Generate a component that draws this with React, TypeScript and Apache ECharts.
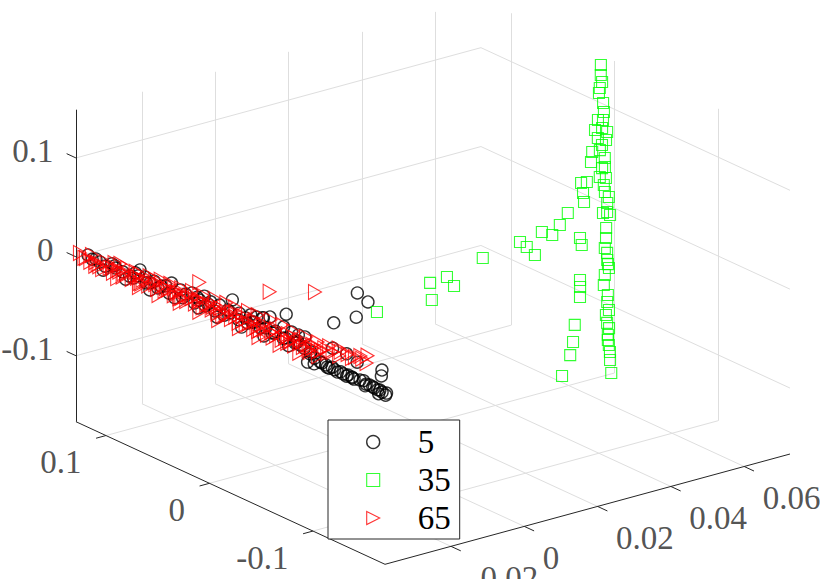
import { useEffect, useRef } from "react";
import * as echarts from "echarts";

const W = 830;
const H = 579;
const FONT = "Liberation Serif";

// 3D axis limits (tight)
const XLIM = [-0.038, 0.0725];
const YLIM = [-0.1696, 0.129];
const ZLIM = [-0.1667, 0.1488];

const X_TICKS = [-0.02, 0, 0.02, 0.04, 0.06];
const Y_TICKS = [-0.1, 0, 0.1];
const Z_TICKS = [-0.1, 0, 0.1];
const X_TICK_LABELS = ["-0.02", "0", "0.02", "0.04", "0.06"];
const Y_TICK_LABELS = ["-0.1", "0", "0.1"];
const Z_TICK_LABELS = ["-0.1", "0", "0.1"];

const SERIES_NAMES = ["5", "35", "65"];

// class "5" (black circles)
const Y5 = [0.1209, 0.1161, 0.0987, 0.0939, 0.0755, 0.0659, 0.0562, 0.0465, 0.0398, 0.0320,
  0.0204, 0.0147, 0.0031, -0.0066, -0.0182, -0.0143, -0.0259, -0.0356, -0.0424, -0.0482,
  -0.0549, -0.0713, -0.0675, -0.0762, -0.0820, -0.0887, -0.0404, -0.0501, -0.0597, -0.0694,
  -0.0791, -0.0887, -0.0936, -0.0984, -0.1032, -0.1090, -0.1158, -0.1225, -0.1293, -0.1341,
  -0.1419, -0.1486, -0.1583, -0.1670, -0.1622, -0.1631, -0.1399, -0.1283, -0.1158, -0.1390,
  -0.1496, -0.1390, -0.1158, 0.0127, -0.0308, -0.0839, -0.1129, -0.1535, 0.0804, 0.0610,
  0.1094, 0.1036, 0.0881, 0.0765, 0.0649, 0.0533, 0.0417, 0.0302, 0.0176, 0.0079,
  -0.0017, -0.0114, -0.0240, -0.0336, -0.0452, -0.0568, -0.0684, -0.0800, -0.0916, -0.0973,
  -0.1051, -0.1109, -0.1167, -0.1205, -0.1254, -0.1341, -0.1369, -0.1447, -0.1515, -0.1553,
  -0.1611, -0.1640, -0.1592, -0.1679, -0.1466, -0.1302,
  0.1132, 0.1055, 0.0958, 0.0842, 0.0727, 0.0611, 0.0495, 0.0379, 0.0263, 0.0147,
  0.0050, -0.0046, -0.0162, -0.0278, -0.0375, -0.0491, -0.0606, -0.0722, -0.0819, -0.0935,
  0.0707, 0.0079, -0.0471];
const Z5 = [0.0048, 0.0030, 0.0064, 0.0047, 0.0085, 0.0091, 0.0097, 0.0093, 0.0156, 0.0123,
  0.0149, 0.0136, 0.0141, 0.0158, 0.0264, 0.0145, 0.0170, 0.0197, 0.0209, 0.0227,
  0.0270, 0.0379, 0.0229, 0.0221, 0.0218, 0.0231, 0.0149, 0.0135, 0.0131, 0.0127,
  0.0123, 0.0120, 0.0102, 0.0065, 0.0048, 0.0046, 0.0058, 0.0040, 0.0032, 0.0036,
  0.0053, 0.0045, 0.0031, 0.0022, 0.0191, 0.0256, 0.0225, 0.0250, 0.0250, 0.0918,
  0.0879, 0.0676, 0.0503, 0.0115, 0.0143, 0.0127, 0.0034, 0.0038, 0.0031, 0.0054,
  0.0033, 0.0020, 0.0034, 0.0030, 0.0035, 0.0041, 0.0046, 0.0051, 0.0062, 0.0078,
  0.0074, 0.0080, 0.0090, 0.0107, 0.0112, 0.0118, 0.0123, 0.0128, -0.0008, 0.0000,
  0.0047, 0.0035, 0.0033, 0.0031, 0.0034, 0.0046, 0.0040, 0.0057, 0.0049, 0.0037,
  0.0045, 0.0039, -0.0005, 0.0047, 0.0016, 0.0047,
  0.0045, -0.0029, 0.0058, -0.0018, 0.0069, -0.0017, 0.0080, 0.0014, 0.0111, 0.0025,
  0.0112, 0.0027, 0.0124, 0.0038, 0.0135, 0.0050, 0.0156, 0.0061, 0.0158, 0.0082,
  0.0139, 0.0179, 0.0223];
const X5 = [-0.0370, -0.0372, -0.0368, -0.0371, -0.0369, -0.0370, -0.0372, -0.0368, -0.0371, -0.0369,
  -0.0370, -0.0372, -0.0368, -0.0371, -0.0369, -0.0370, -0.0372, -0.0368, -0.0371, -0.0369,
  -0.0370, -0.0372, -0.0368, -0.0371, -0.0369, -0.0370, -0.0372, -0.0368, -0.0371, -0.0369,
  -0.0370, -0.0372, -0.0368, -0.0371, -0.0369, -0.0370, -0.0372, -0.0368, -0.0371, -0.0369,
  -0.0370, -0.0372, -0.0368, -0.0371, -0.0369, -0.0370, -0.0372, -0.0368, -0.0371, -0.0369,
  -0.0370, -0.0372, -0.0368, -0.0371, -0.0369, -0.0370, -0.0372, -0.0368, -0.0371, -0.0369,
  -0.0370, -0.0372, -0.0368, -0.0371, -0.0369, -0.0370, -0.0372, -0.0368, -0.0371, -0.0369,
  -0.0370, -0.0372, -0.0368, -0.0371, -0.0369, -0.0370, -0.0372, -0.0368, -0.0371, -0.0369,
  -0.0370, -0.0372, -0.0368, -0.0371, -0.0369, -0.0370, -0.0372, -0.0368, -0.0371, -0.0369,
  -0.0370, -0.0372, -0.0368, -0.0371, -0.0369, -0.0370,
  -0.0370, -0.0372, -0.0368, -0.0371, -0.0369, -0.0370, -0.0372, -0.0368, -0.0371, -0.0369,
  -0.0370, -0.0372, -0.0368, -0.0371, -0.0369, -0.0370, -0.0372, -0.0368, -0.0371, -0.0369,
  -0.0370, -0.0372, -0.0368];

// class "35" (green squares)
const X35 = [0.0688, 0.0688, 0.0691, 0.0685, 0.0683, 0.0694, 0.0696, 0.0680, 0.0694, 0.0672,
  0.0691, 0.0705, 0.0680, 0.0702, 0.0664, 0.0661, 0.0699, 0.0699, 0.0691, 0.0685,
  0.0702, 0.0699, 0.0705, 0.0705, 0.0694, 0.0713, 0.0702, 0.0702, 0.0699, 0.0705,
  0.0705, 0.0710, 0.0699, 0.0707, 0.0705, 0.0710, 0.0702, 0.0705, 0.0710, 0.0707,
  0.0710, 0.0713, 0.0716, 0.0696, 0.0650, 0.0634, 0.0639, 0.0642, 0.0598, 0.0576,
  0.0555, 0.0527, 0.0486, 0.0508, 0.0467, 0.0631, 0.0636, 0.0631, 0.0631, 0.0631,
  0.0617, 0.0612, 0.0604, 0.0582, 0.0366, 0.0268, 0.0287, 0.0222, 0.0227, 0.0077,
  0.0685, 0.0696, 0.0710, 0.0691, 0.0707, 0.0707, 0.0713];
const Y35 = [0.0000, 0.0001, -0.0001, 0.0000, 0.0001, 0.0000, -0.0001, 0.0000, 0.0001, 0.0000,
  -0.0001, 0.0000, 0.0001, 0.0000, -0.0001, 0.0000, 0.0001, 0.0000, -0.0001, 0.0000,
  0.0001, 0.0000, -0.0001, 0.0000, 0.0001, 0.0000, -0.0001, 0.0000, 0.0001, 0.0000,
  -0.0001, 0.0000, 0.0001, 0.0000, -0.0001, 0.0000, 0.0001, 0.0000, -0.0001, 0.0000,
  0.0001, 0.0000, -0.0001, 0.0000, 0.0001, 0.0000, -0.0001, 0.0000, 0.0001, 0.0000,
  -0.0001, 0.0000, 0.0001, 0.0000, -0.0001, 0.0000, 0.0001, 0.0000, -0.0001, 0.0000,
  0.0001, 0.0000, -0.0001, 0.0000, 0.0001, 0.0000, -0.0001, 0.0000, 0.0001, 0.0000,
  -0.0001, 0.0000, 0.0001, 0.0000, -0.0001, 0.0000, 0.0001];
const Z35 = [0.1485, 0.1384, 0.1310, 0.1255, 0.1207, 0.1095, 0.1002, 0.0937, 0.0923, 0.0844,
  0.0845, 0.0791, 0.0755, 0.0712, 0.0630, 0.0531, 0.0533, 0.0442, 0.0440, 0.0355,
  0.0328, 0.0190, 0.0073, -0.0018, -0.0018, -0.0057, -0.0177, -0.0279, -0.0377, -0.0432,
  -0.0503, -0.0590, -0.0650, -0.0860, -0.0928, -0.1015, -0.1057, -0.1140, -0.1197, -0.1315,
  -0.1369, -0.1523, -0.1657, -0.0748, 0.0340, 0.0346, 0.0240, 0.0146, 0.0079, -0.0020,
  -0.0100, -0.0041, -0.0152, -0.0254, -0.0081, -0.0207, -0.0283, -0.0631, -0.0702, -0.0803,
  -0.1072, -0.1239, -0.1363, -0.1553, -0.0142, -0.0235, -0.0345, -0.0248, -0.0426, -0.0396,
  0.0628, 0.0263, 0.0128, 0.0673, -0.0547, -0.1265, -0.1443];

// class "65" (red triangles)
const Y65 = [0.1287, 0.1248, 0.1132, 0.1093, 0.1035, 0.0977, 0.0919, 0.0861, 0.0823, 0.0765,
  0.0707, 0.0649, 0.0610, 0.0552, 0.0514, 0.0456, 0.0417, 0.0359, 0.0301, 0.0243,
  0.0204, 0.0147, 0.0089, 0.0031, -0.0008, -0.0066, -0.0124, -0.0182, -0.0221, -0.0279,
  -0.0337, -0.0395, -0.0433, -0.0491, -0.0549, -0.0607, -0.0665, -0.0723, -0.0781, -0.0839,
  -0.0897, -0.0955, -0.1013, -0.1081, -0.1225, -0.1341, -0.1419, -0.1486, 0.0127, -0.0539,
  -0.0984, 0.0900, 0.0707, 0.0320, -0.0114, -0.0453, -0.0742, -0.0936,
  0.1229, 0.1190, 0.1113, 0.1065, 0.1007, 0.0968, 0.0910, 0.0871, 0.0833, 0.0794,
  0.0736, 0.0698, 0.0678, 0.0620, 0.0582, 0.0543, 0.0504, 0.0466, 0.0427, 0.0388,
  0.0350, 0.0311, 0.0273, 0.0253, 0.0215, 0.0176, 0.0137, 0.0099, 0.0060, 0.0021,
  0.0002, -0.0037, -0.0075, -0.0095, -0.0133, -0.0172, -0.0211, -0.0249, -0.0288, -0.0307,
  -0.0346, -0.0384, -0.0423, -0.0442, -0.0481, -0.0520, -0.0558, -0.0578, -0.0616, -0.0655,
  -0.0694, -0.0713, -0.0752, -0.0790, -0.0829, -0.0867, -0.0887, -0.0925, -0.0964, -0.1003,
  -0.1041, -0.1099, -0.1157, -0.1225, -0.1292, -0.1370, -0.1437, -0.1495, -0.1128, -0.1206,
  0.1171, 0.1142, 0.0949, 0.0920, 0.0756, 0.0717, 0.0562, 0.0524, 0.0369, 0.0330,
  0.0176, 0.0137, -0.0017, -0.0056, -0.0210, -0.0249, -0.0404, -0.0442, -0.0597, -0.0635,
  -0.0790, -0.0829, -0.0983, -0.1022];
const Z65 = [0.0030, -0.0001, 0.0014, -0.0008, 0.0051, 0.0028, 0.0036, 0.0033, 0.0103, 0.0050,
  0.0098, 0.0055, 0.0124, 0.0072, 0.0131, 0.0078, 0.0137, 0.0084, 0.0152, 0.0100,
  0.0169, 0.0106, 0.0174, 0.0121, 0.0191, 0.0128, 0.0206, 0.0143, 0.0212, 0.0149,
  0.0228, 0.0165, 0.0234, 0.0171, 0.0239, 0.0176, 0.0245, 0.0182, 0.0240, 0.0177,
  0.0236, 0.0183, 0.0241, 0.0213, 0.0242, 0.0238, 0.0295, 0.0257, 0.0297, 0.0518,
  0.0733, 0.0106, 0.0007, 0.0042, 0.0080, 0.0092, 0.0110, 0.0102,
  0.0008, -0.0014, 0.0003, -0.0024, 0.0014, -0.0016, 0.0024, -0.0006, 0.0046, 0.0004,
  0.0046, 0.0005, 0.0055, 0.0026, 0.0076, 0.0026, 0.0076, 0.0046, 0.0077, 0.0035,
  0.0087, 0.0045, 0.0086, 0.0046, 0.0087, 0.0056, 0.0097, 0.0056, 0.0107, 0.0067,
  0.0107, 0.0057, 0.0097, 0.0066, 0.0097, 0.0067, 0.0107, 0.0067, 0.0108, 0.0067,
  0.0108, 0.0068, 0.0108, 0.0077, 0.0108, 0.0077, 0.0118, 0.0078, 0.0118, 0.0088,
  0.0129, 0.0088, 0.0128, 0.0099, 0.0138, 0.0119, 0.0149, 0.0118, 0.0159, 0.0138,
  0.0169, 0.0169, 0.0210, 0.0205, 0.0251, 0.0261, 0.0276, 0.0337, 0.0256, 0.0266,
  0.0066, -0.0031, 0.0093, -0.0045, 0.0095, -0.0038, 0.0107, -0.0026, 0.0120, -0.0013,
  0.0122, -0.0011, 0.0135, 0.0002, 0.0147, 0.0014, 0.0149, 0.0016, 0.0162, 0.0029,
  0.0174, 0.0041, 0.0177, 0.0104];
const X65 = [-0.0370, -0.0369, -0.0371, -0.0372, -0.0368, -0.0370, -0.0369, -0.0371, -0.0372, -0.0368,
  -0.0370, -0.0369, -0.0371, -0.0372, -0.0368, -0.0370, -0.0369, -0.0371, -0.0372, -0.0368,
  -0.0370, -0.0369, -0.0371, -0.0372, -0.0368, -0.0370, -0.0369, -0.0371, -0.0372, -0.0368,
  -0.0370, -0.0369, -0.0371, -0.0372, -0.0368, -0.0370, -0.0369, -0.0371, -0.0372, -0.0368,
  -0.0370, -0.0369, -0.0371, -0.0372, -0.0368, -0.0370, -0.0369, -0.0371, -0.0372, -0.0368,
  -0.0370, -0.0369, -0.0371, -0.0372, -0.0368, -0.0370, -0.0369, -0.0371,
  -0.0370, -0.0369, -0.0371, -0.0372, -0.0368, -0.0370, -0.0369, -0.0371, -0.0372, -0.0368,
  -0.0370, -0.0369, -0.0371, -0.0372, -0.0368, -0.0370, -0.0369, -0.0371, -0.0372, -0.0368,
  -0.0370, -0.0369, -0.0371, -0.0372, -0.0368, -0.0370, -0.0369, -0.0371, -0.0372, -0.0368,
  -0.0370, -0.0369, -0.0371, -0.0372, -0.0368, -0.0370, -0.0369, -0.0371, -0.0372, -0.0368,
  -0.0370, -0.0369, -0.0371, -0.0372, -0.0368, -0.0370, -0.0369, -0.0371, -0.0372, -0.0368,
  -0.0370, -0.0369, -0.0371, -0.0372, -0.0368, -0.0370, -0.0369, -0.0371, -0.0372, -0.0368,
  -0.0370, -0.0369, -0.0371, -0.0372, -0.0368, -0.0370, -0.0369, -0.0371, -0.0372, -0.0368,
  -0.0370, -0.0369, -0.0371, -0.0372, -0.0368, -0.0370, -0.0369, -0.0371, -0.0372, -0.0368,
  -0.0370, -0.0369, -0.0371, -0.0372, -0.0368, -0.0370, -0.0369, -0.0371, -0.0372, -0.0368,
  -0.0370, -0.0369, -0.0371, -0.0372];

// orthographic view: screen position of (xmin, ymin, zmin) and screen step per data unit
const ORIGIN = [385, 564.3];
const EX = [3665, -998];
const EY = [-1035, -477.6];
const EZ = [0, -988.9];

function project(x: number, y: number, z: number): number[] {
  const dx = x - XLIM[0];
  const dy = y - YLIM[0];
  const dz = z - ZLIM[0];
  return [
    ORIGIN[0] + EX[0] * dx + EY[0] * dy + EZ[0] * dz,
    ORIGIN[1] + EX[1] * dx + EY[1] * dy + EZ[1] * dz,
  ];
}

function seg(a: number[], b: number[]) {
  return { coords: [project(a[0], a[1], a[2]), project(b[0], b[1], b[2])] };
}

function buildOption() {
  const [X0, X1] = XLIM;
  const [Y0, Y1] = YLIM;
  const [Z0, Z1] = ZLIM;

  const grid: any[] = [];
  X_TICKS.forEach((x) => grid.push(seg([x, Y0, Z0], [x, Y1, Z0])));
  Y_TICKS.forEach((y) => grid.push(seg([X0, y, Z0], [X1, y, Z0])));
  X_TICKS.forEach((x) => grid.push(seg([x, Y1, Z0], [x, Y1, Z1])));
  Z_TICKS.forEach((z) => grid.push(seg([X0, Y1, z], [X1, Y1, z])));
  Y_TICKS.forEach((y) => grid.push(seg([X1, y, Z0], [X1, y, Z1])));
  Z_TICKS.forEach((z) => grid.push(seg([X1, Y0, z], [X1, Y1, z])));

  const axes: any[] = [
    seg([X0, Y1, Z0], [X0, Y1, Z1]),
    seg([X0, Y0, Z0], [X0, Y1, Z0]),
    seg([X0, Y0, Z0], [X1, Y0, Z0]),
  ];
  Z_TICKS.forEach((z) => axes.push(seg([X0, Y1, z], [X0, Y1 + 0.009, z])));
  Y_TICKS.forEach((y) => axes.push(seg([X0, y, Z0], [X0 - 0.0027, y, Z0])));
  X_TICKS.forEach((x) => axes.push(seg([x, Y0, Z0], [x, Y0 - 0.0095, Z0])));

  const labelSeries = (name: string, pts: number[][], texts: string[], pos: number[], align: string) => ({
    type: "scatter",
    name,
    silent: true,
    symbolSize: 1,
    itemStyle: { color: "rgba(0,0,0,0)" },
    data: pts.map((p, i) => ({ value: p, name: texts[i] })),
    label: {
      show: true,
      formatter: "{b}",
      position: pos,
      align,
      verticalAlign: "middle",
      color: "#262626",
      fontSize: 33,
      fontFamily: FONT,
    },
    z: 5,
  });

  const pts = (xs: number[], ys: number[], zs: number[]) => xs.map((x, i) => project(x, ys[i], zs[i]));

  const TRI = "path://M0,0L1,0.5L0,1Z";
  const SQ = "path://M0,0L1,0L1,1L0,1Z";

  return {
    animation: false,
    backgroundColor: "#ffffff",
    grid: { left: 0, right: 0, top: 0, bottom: 0, containLabel: false },
    xAxis: { type: "value", min: 0, max: W, show: false },
    yAxis: { type: "value", min: 0, max: H, inverse: true, show: false },
    legend: {
      data: [
        { name: SERIES_NAMES[0], icon: "circle", itemStyle: { color: "rgba(0,0,0,0)", borderColor: "#000000", borderWidth: 1.4 } },
        { name: SERIES_NAMES[1], icon: SQ, itemStyle: { color: "rgba(0,0,0,0)", borderColor: "#00ff00", borderWidth: 1.1 } },
        { name: SERIES_NAMES[2], icon: TRI, itemStyle: { color: "rgba(0,0,0,0)", borderColor: "#ff0000", borderWidth: 1.1 } },
      ],
      orient: "vertical",
      left: 328,
      top: 420,
      padding: [3, 9, 2, 38],
      itemGap: 0,
      itemWidth: 13,
      itemHeight: 13,
      selectedMode: false,
      backgroundColor: "#ffffff",
      borderColor: "#262626",
      borderWidth: 1,
      borderRadius: 0,
      textStyle: { color: "#000000", fontSize: 33, fontFamily: FONT, lineHeight: 30, padding: [8, 0, 0, 33] },
    },
    series: [
      {
        type: "lines",
        coordinateSystem: "cartesian2d",
        silent: true,
        lineStyle: { color: "#dedede", width: 1, opacity: 1 },
        data: grid,
        z: 1,
      },
      {
        type: "lines",
        coordinateSystem: "cartesian2d",
        silent: true,
        lineStyle: { color: "#262626", width: 1, opacity: 1 },
        data: axes,
        z: 2,
      },
      {
        type: "scatter",
        name: SERIES_NAMES[0],
        silent: true,
        symbol: "circle",
        symbolSize: 12,
        itemStyle: { color: "rgba(0,0,0,0)", borderColor: "#000000", borderWidth: 1.4 },
        data: pts(X5, Y5, Z5),
        z: 3,
      },
      {
        type: "scatter",
        name: SERIES_NAMES[1],
        silent: true,
        symbol: SQ,
        symbolSize: 11,
        itemStyle: { color: "rgba(0,0,0,0)", borderColor: "#00ff00", borderWidth: 1.1 },
        data: pts(X35, Y35, Z35),
        z: 3,
      },
      {
        type: "scatter",
        name: SERIES_NAMES[2],
        silent: true,
        symbol: TRI,
        symbolSize: [13, 15],
        itemStyle: { color: "rgba(0,0,0,0)", borderColor: "#ff0000", borderWidth: 1.1 },
        data: pts(X65, Y65, Z65),
        z: 3,
      },
      labelSeries("zlabels", Z_TICKS.map((z) => project(X0, Y1, z)), Z_TICK_LABELS, [-22, -6], "right"),
      labelSeries("ylabels", Y_TICKS.map((y) => project(X0, y, Z0)), Y_TICK_LABELS, [-24, 27], "right"),
      labelSeries("xlabels", X_TICKS.map((x) => project(x, Y0, Z0)), X_TICK_LABELS, [19, 32], "left"),
    ],
  };
}

export default function App() {
  const ref = useRef<HTMLDivElement>(null);
  useEffect(() => {
    if (!ref.current) return;
    const chart = echarts.init(ref.current, undefined, { renderer: "svg" });
    chart.setOption(buildOption() as any);
    return () => chart.dispose();
  }, []);
  return (
    <div
      ref={ref}
      style={{ position: "fixed", left: 0, top: 0, width: W, height: H, background: "#ffffff" }}
    />
  );
}
